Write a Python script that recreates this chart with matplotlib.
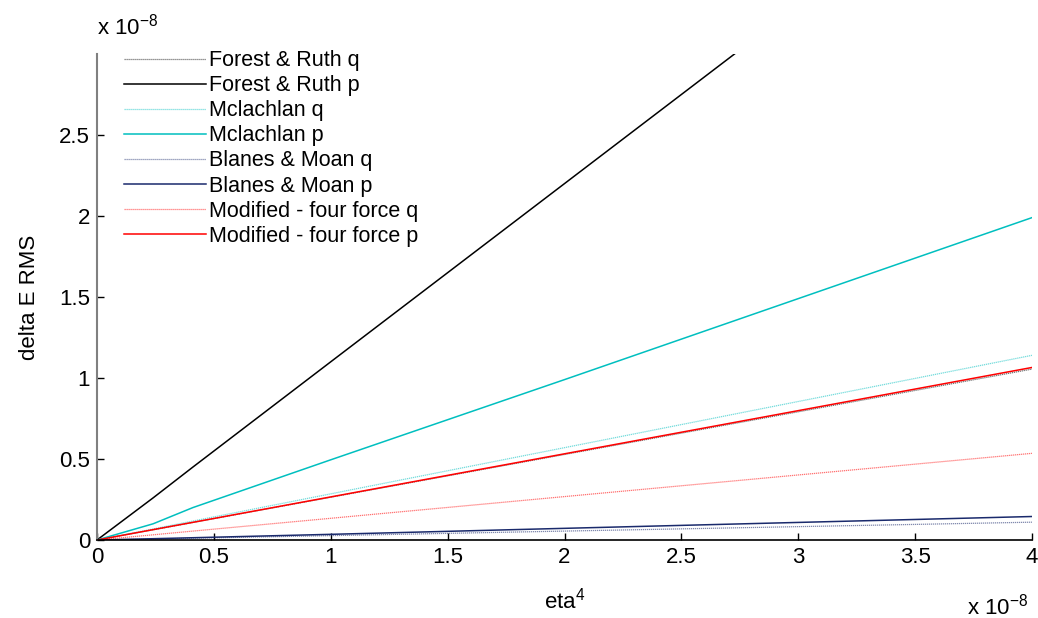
import matplotlib
matplotlib.use("Agg")
import matplotlib.pyplot as plt
from matplotlib.ticker import FixedLocator, FuncFormatter

plt.rcParams['font.family'] = ['Liberation Sans', 'DejaVu Sans']
plt.rcParams['mathtext.fontset'] = 'custom'
plt.rcParams['mathtext.rm'] = 'Liberation Sans'
plt.rcParams['mathtext.it'] = 'Liberation Sans'

SCALE = 1e-8
# eta^4 sample points (units of 1e-8)
eta4 = [0.0, 0.24, 0.41, 1.0, 2.0, 4.0]

# delta E RMS (units of 1e-8)
fr_q = [0.0, 0.063, 0.108, 0.264, 0.528, 1.055]
fr_p = [0.0, 0.26, 0.45, 1.10, 2.20, 4.40]
mc_q = [0.0, 0.068, 0.117, 0.285, 0.570, 1.14]
mc_p = [0.0, 0.10, 0.20, 0.495, 0.99, 1.99]
bm_q = [0.0, 0.006, 0.011, 0.027, 0.055, 0.11]
bm_p = [0.0, 0.008, 0.014, 0.035, 0.072, 0.145]
mf_q = [0.0, 0.032, 0.055, 0.134, 0.268, 0.535]
mf_p = [0.0, 0.064, 0.109, 0.266, 0.532, 1.065]

labels = ["Forest & Ruth q", "Forest & Ruth p", "Mclachlan q", "Mclachlan p",
          "Blanes & Moan q", "Blanes & Moan p", "Modified - four force q",
          "Modified - four force p"]
series = [fr_q, fr_p, mc_q, mc_p, bm_q, bm_p, mf_q, mf_p]
colors = ["#000000", "#000000", "#00BFBF", "#00BFBF",
          "#1a2a6c", "#1a2a6c", "#FF0000", "#FF0000"]

xticks = [0, 0.5, 1, 1.5, 2, 2.5, 3, 3.5, 4]
yticks = [0, 0.5, 1, 1.5, 2, 2.5]

fig = plt.figure(figsize=(10.38, 6.18), dpi=100)
ax = fig.add_axes([97/1038, 78/618, 935/1038, 486/618])

xs = [v * SCALE for v in eta4]
for lab, ys, c in zip(labels, series, colors):
    yv = [v * SCALE for v in ys]
    if lab.endswith(" q"):
        ax.plot(xs, yv, color=c, lw=0.9, ls=(0, (1, 0.6)), alpha=0.55, label=lab)
    else:
        ax.plot(xs, yv, color=c, lw=1.1, label=lab)

ax.set_xlim(0, 4 * SCALE)
ax.set_ylim(0, 3 * SCALE)
ax.xaxis.set_major_locator(FixedLocator([t * SCALE for t in xticks]))
ax.yaxis.set_major_locator(FixedLocator([t * SCALE for t in yticks]))
fmt = FuncFormatter(lambda v, p: ('%g' % round(v / SCALE, 3)))
ax.xaxis.set_major_formatter(fmt)
ax.yaxis.set_major_formatter(fmt)

for s in ['top', 'right']:
    ax.spines[s].set_visible(False)
ax.spines['left'].set_color('#808080')
ax.spines['left'].set_linewidth(1.5)
ax.spines['bottom'].set_color('#000000')
ax.spines['bottom'].set_linewidth(1.2)
ax.tick_params(direction='in', length=5, width=1, labelsize=16, pad=5)

ax.set_xlabel(r'eta$^4$', fontsize=16, labelpad=14)
ax.set_ylabel('delta E RMS', fontsize=16, labelpad=14)

fig.text(97/1038, 1 - 35/618, r'x 10$^{-8}$', fontsize=16, ha='left', va='baseline')
fig.text(967/1038, 1 - 614/618, r'x 10$^{-8}$', fontsize=16, ha='left', va='baseline')

leg = ax.legend(loc='upper left', bbox_to_anchor=(109/1038, 1 - 35/618),
                bbox_transform=fig.transFigure, frameon=False, fontsize=15.5,
                handlelength=3.8, handletextpad=0.15, labelspacing=0.19,
                borderpad=0.2)

fig.savefig('out.png', dpi=100)
